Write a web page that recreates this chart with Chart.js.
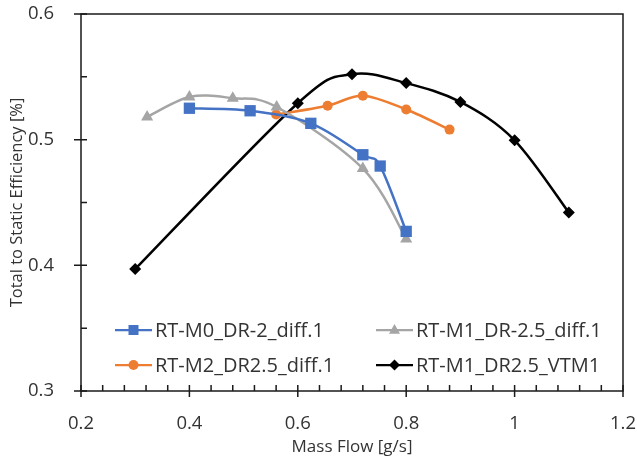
<!DOCTYPE html>
<html>
<head>
<meta charset="utf-8">
<script src="https://cdn.jsdelivr.net/npm/chart.js@4.4.1/dist/chart.umd.min.js"></script>
<style>
  html, body { margin: 0; padding: 0; background: #fff; }
  #wrap { width: 637px; height: 460px; }
</style>
</head>
<body>
<div id="wrap"><canvas id="chart"></canvas></div>
<script>
// series values: mass flow [g/s] and efficiency
var m0Flow = [0.40, 0.512, 0.624, 0.72, 0.752, 0.80];
var m0Eff = [0.525, 0.523, 0.513, 0.488, 0.479, 0.427];
var m1Flow = [0.322, 0.40, 0.48, 0.561, 0.72, 0.80];
var m1Eff = [0.518, 0.534, 0.533, 0.526, 0.477, 0.421];
var m2Flow = [0.56, 0.655, 0.72, 0.80, 0.88];
var m2Eff = [0.520, 0.527, 0.535, 0.524, 0.508];
var vtmFlow = [0.30, 0.60, 0.70, 0.80, 0.90, 1.00, 1.10];
var vtmEff = [0.397, 0.529, 0.552, 0.545, 0.530, 0.4995, 0.442];

var seriesNames = ['RT-M0_DR-2_diff.1', 'RT-M1_DR-2.5_diff.1', 'RT-M2_DR2.5_diff.1', 'RT-M1_DR2.5_VTM1'];
var xTickLabels = ['0.2', '0.4', '0.6', '0.8', '1', '1.2'];
var yTickLabels = ['0.3', '0.4', '0.5', '0.6'];

var textColor = '#333333';
var fontFamily = "'Open Sans', 'Noto Sans', sans-serif";

function pairs(xs, ys) {
	return xs.map(function (x, i) { return { x: x, y: ys[i] }; });
}

// Excel "smoothed line": control points at +-1/6 of the neighbour chord
var smoothPlugin = {
	id: 'excelSmooth',
	beforeDatasetDraw: function (chart, args) {
		var meta = args.meta, pts = meta.data;
		meta.dataset.updateControlPoints(chart.chartArea, 'x');
		for (var i = 0; i < pts.length; i++) {
			var prev = pts[i - 1] || pts[i], next = pts[i + 1] || pts[i], pt = pts[i];
			var dx = (next.x - prev.x) / 6, dy = (next.y - prev.y) / 6;
			pt.cp1x = pt.x - dx; pt.cp1y = pt.y - dy;
			pt.cp2x = pt.x + dx; pt.cp2y = pt.y + dy;
		}
	}
};

// Excel-style frame with crossing major ticks and inside minor ticks
var framePlugin = {
	id: 'frame',
	afterDraw: function (chart) {
		var ctx = chart.ctx, a = chart.chartArea;
		var xs = chart.scales.x, ys = chart.scales.y;
		ctx.save();
		ctx.strokeStyle = '#1a1a1a';
		ctx.lineWidth = 1.5;
		ctx.strokeRect(a.left, a.top, a.right - a.left, a.bottom - a.top);
		ctx.beginPath();
		var v, p;
		for (v = 0; v <= 25; v++) {
			p = xs.getPixelForValue(0.2 + v * 0.04);
			if (v % 5 === 0) {
				ctx.moveTo(p, a.bottom - 6); ctx.lineTo(p, a.bottom + 6);
			} else {
				ctx.moveTo(p, a.bottom - 6); ctx.lineTo(p, a.bottom);
			}
		}
		for (v = 0; v <= 6; v++) {
			p = ys.getPixelForValue(0.3 + v * 0.05);
			if (v % 2 === 0) {
				ctx.moveTo(a.left - 7, p); ctx.lineTo(a.left + 6, p);
			} else {
				ctx.moveTo(a.left, p); ctx.lineTo(a.left + 6, p);
			}
		}
		ctx.stroke();
		ctx.restore();
	}
};

function marker(ctx, style, x, y, r, color) {
	ctx.fillStyle = color;
	ctx.beginPath();
	if (style === 'rect') {
		ctx.rect(x - r, y - r, 2 * r, 2 * r);
	} else if (style === 'circle') {
		ctx.arc(x, y, r, 0, Math.PI * 2);
	} else if (style === 'triangle') {
		ctx.moveTo(x, y - r * 1.1);
		ctx.lineTo(x + r, y + r * 0.7);
		ctx.lineTo(x - r, y + r * 0.7);
		ctx.closePath();
	} else {
		ctx.moveTo(x, y - r); ctx.lineTo(x + r, y); ctx.lineTo(x, y + r); ctx.lineTo(x - r, y);
		ctx.closePath();
	}
	ctx.fill();
}

// legend sits inside the plot, two columns
var legendPlugin = {
	id: 'insideLegend',
	afterDraw: function (chart) {
		var ctx = chart.ctx;
		var slots = [
			{ x: 115, y: 330 }, { x: 376, y: 330 },
			{ x: 115, y: 365 }, { x: 376, y: 365 }
		];
		var sizes = { rect: 5, circle: 5, triangle: 5.5, rectRot: 5.5 };
		ctx.save();
		ctx.font = '20px ' + fontFamily;
		ctx.textBaseline = 'middle';
		chart.data.datasets.forEach(function (ds, k) {
			var s = slots[k];
			ctx.strokeStyle = ds.borderColor;
			ctx.lineWidth = 2.25;
			ctx.beginPath();
			ctx.moveTo(s.x, s.y); ctx.lineTo(s.x + 37, s.y);
			ctx.stroke();
			marker(ctx, ds.pointStyle, s.x + 18.5, s.y, sizes[ds.pointStyle], ds.borderColor);
			ctx.fillStyle = textColor;
			ctx.fillText(ds.label, s.x + 40, s.y + 1);
		});
		ctx.restore();
	}
};

var ctxMain = document.getElementById('chart').getContext('2d');
var effChart = new Chart(ctxMain, {
	type: 'scatter',
	data: {
		datasets: [{
			label: seriesNames[0],
			data: pairs(m0Flow, m0Eff),
			borderColor: '#4472C4',
			backgroundColor: '#4472C4',
			pointStyle: 'rect',
			pointRadius: 8
		}, {
			label: seriesNames[1],
			data: pairs(m1Flow, m1Eff),
			borderColor: '#A5A5A5',
			backgroundColor: '#A5A5A5',
			pointStyle: 'triangle',
			pointRadius: 7
		}, {
			label: seriesNames[2],
			data: pairs(m2Flow, m2Eff),
			borderColor: '#ED7D31',
			backgroundColor: '#ED7D31',
			pointStyle: 'circle',
			pointRadius: 5
		}, {
			label: seriesNames[3],
			data: pairs(vtmFlow, vtmEff),
			borderColor: '#000000',
			backgroundColor: '#000000',
			pointStyle: 'rectRot',
			pointRadius: 6
		}].map(function (d) {
			d.showLine = true;
			d.tension = 0.4;
			d.borderWidth = 2.5;
			d.pointBorderWidth = 0;
			d.pointHoverRadius = d.pointRadius;
			return d;
		})
	},
	options: {
		responsive: true,
		maintainAspectRatio: false,
		animation: false,
		events: [],
		layout: { padding: { top: 14, right: 14, left: 0, bottom: 0 } },
		plugins: {
			legend: { display: false },
			tooltip: { enabled: false }
		},
		scales: {
			x: {
				type: 'linear',
				min: 0.2,
				max: 1.2,
				afterBuildTicks: function (scale) {
					scale.ticks = xTickLabels.map(function (t) { return { value: parseFloat(t) }; });
				},
				afterFit: function (scale) {
					scale.height = 69;
					scale.paddingLeft = 0;
					scale.paddingRight = 0;
				},
				grid: { display: false },
				border: { display: false },
				ticks: {
					padding: 14,
					color: textColor,
					font: { size: 18.5, family: fontFamily },
					maxRotation: 0,
					callback: function (val, i) { return xTickLabels[i]; }
				},
				title: {
					display: true,
					text: 'Mass Flow [g/s]',
					color: textColor,
					font: { size: 17, family: fontFamily },
					padding: { top: 3, bottom: 3 }
				}
			},
			y: {
				type: 'linear',
				min: 0.3,
				max: 0.6,
				afterBuildTicks: function (scale) {
					scale.ticks = yTickLabels.map(function (t) { return { value: parseFloat(t) }; });
				},
				afterFit: function (scale) {
					scale.width = 81;
					scale.paddingTop = 0;
					scale.paddingBottom = 0;
				},
				grid: { display: false },
				border: { display: false },
				ticks: {
					padding: 19,
					color: textColor,
					font: { size: 18.5, family: fontFamily },
					callback: function (val, i) { return yTickLabels[i]; }
				},
				title: {
					display: true,
					text: 'Total to Static Efficiency [%]',
					color: textColor,
					font: { size: 16.5, family: fontFamily },
					padding: { top: 7, bottom: 7 }
				}
			}
		}
	},
	plugins: [smoothPlugin, framePlugin, legendPlugin]
});
</script>
</body>
</html>
